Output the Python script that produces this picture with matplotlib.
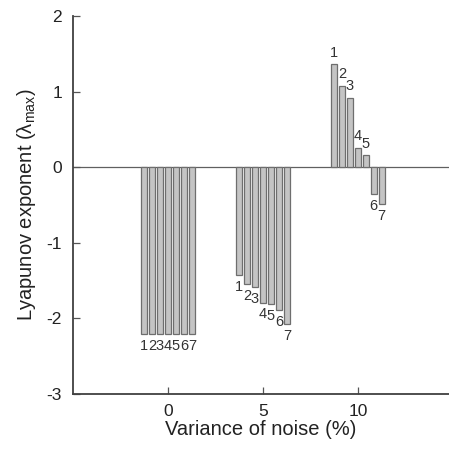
import numpy as np
import matplotlib
matplotlib.use("Agg")
import matplotlib.pyplot as plt

plt.rcParams['font.family'] = ['Liberation Sans', 'DejaVu Sans']
plt.rcParams['mathtext.fontset'] = 'custom'
plt.rcParams['mathtext.rm'] = 'Liberation Sans'
plt.rcParams['mathtext.it'] = 'Liberation Sans'
plt.rcParams['axes.unicode_minus'] = False

# noise variance (%) for each group, and exponents for embedding runs 1..7
noise_levels = [0, 5, 10]
run_labels = ['1', '2', '3', '4', '5', '6', '7']
lyap_0 = [-2.21, -2.21, -2.21, -2.21, -2.21, -2.21, -2.21]
lyap_5 = [-1.43, -1.55, -1.58, -1.79, -1.81, -1.89, -2.07]
lyap_10 = [1.36, 1.08, 0.92, 0.26, 0.16, -0.35, -0.49]
groups = [lyap_0, lyap_5, lyap_10]

pitch = 0.42
width = 0.31

fig = plt.figure(figsize=(4.49, 4.50), dpi=100)
ax = fig.add_axes([73/449, 1 - 394/450, 376/449, 378/450])

ax.axhline(0, color='#606060', lw=0.9, zorder=1)

for center, vals in zip(noise_levels, groups):
    offs = (np.arange(len(vals)) - (len(vals) - 1) / 2) * pitch
    xs = center + offs
    ax.bar(xs, vals, width=width, color='#c4c4c4', edgecolor='#6e6e6e',
           linewidth=0.9, zorder=2)
    for x, v, lab in zip(xs, vals, run_labels):
        dy = 3 if v > 0 else -3.5
        ax.annotate(lab, (x, v), xytext=(0, dy), textcoords='offset points',
                    ha='center', va='bottom' if v > 0 else 'top',
                    fontsize=10.5, color='#333333')

ax.set_xlim(-5, 14.8)
ax.set_ylim(-3, 2)
ax.set_xticks([0, 5, 10])
ax.set_yticks([-3, -2, -1, 0, 1, 2])

for side in ['top', 'right']:
    ax.spines[side].set_visible(False)
for side in ['left', 'bottom']:
    ax.spines[side].set_color('#404040')
    ax.spines[side].set_linewidth(1.3)

ax.tick_params(axis='both', direction='in', length=5, width=0.9,
               color='#555555', labelsize=12.5, labelcolor='#222222')
ax.tick_params(axis='x', pad=7)
ax.tick_params(axis='y', pad=8)

ax.set_xlabel('Variance of noise (%)', fontsize=14.5, color='#222222', labelpad=1)
ax.set_ylabel(r'Lyapunov exponent ($\lambda_{\rm max}$)', fontsize=14.5,
              color='#222222', labelpad=6)

fig.savefig('out.png', dpi=100)
